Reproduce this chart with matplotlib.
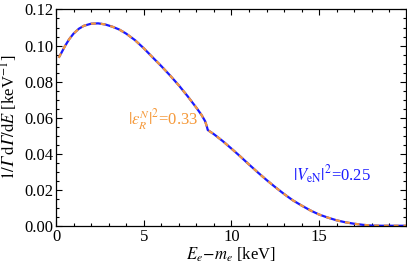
import numpy as np
import matplotlib
matplotlib.use("Agg")
import matplotlib.pyplot as plt
from matplotlib.ticker import MultipleLocator, FuncFormatter

plt.rcParams['font.family'] = ['Liberation Serif', 'DejaVu Serif']
plt.rcParams['mathtext.fontset'] = 'stix'

# spectrum (E in keV, normalised rate in 1/keV)
energy = [0.15, 0.3, 0.5, 0.75, 1.0, 1.3, 1.6, 2.0, 2.4, 2.8, 3.2, 3.6, 4.0,
          4.5, 5.0, 5.5, 6.0, 6.5, 7.0, 7.5, 8.0, 8.3, 8.5, 8.6, 8.65,
          9.0, 9.5, 10.0, 10.5, 11.0, 11.5, 12.0, 12.5, 13.0, 13.5, 14.0,
          14.5, 15.0, 15.5, 16.0, 16.5, 17.0, 17.5, 18.0, 18.6, 19.95]
rate = [0.0932, 0.0958, 0.0995, 0.1035, 0.1066, 0.1093, 0.1110, 0.1121,
        0.1123, 0.1117, 0.1105, 0.1089, 0.1066, 0.1030, 0.0985, 0.0935,
        0.0886, 0.0834, 0.0779, 0.0719, 0.0655, 0.0614, 0.0580, 0.0550,
        0.0531, 0.0508, 0.0470, 0.0428, 0.0385, 0.0340, 0.0296, 0.0254,
        0.0214, 0.0176, 0.0141, 0.0112, 0.0085, 0.0062, 0.0045, 0.0030,
        0.0019, 0.0011, 0.0005, 0.0001, 0.0, 0.0]

eps_label = r'$|\epsilon_R^N|^2$=0.33'
veN_label = r'$|V_{\rm eN}|^2$=0.25'

fig = plt.figure(figsize=(4.07, 2.71), dpi=100)
ax = fig.add_axes([0.1376, 0.167, 0.86, 0.798])

ax.plot(energy, rate, color='#1a1aff', lw=1.6, solid_capstyle='butt')
ax.plot(energy, rate, color='#f5993a', lw=1.6, dashes=(2.2, 2.2))

ax.set_xlim(0, 19.95)
ax.set_ylim(0, 0.12)
ax.xaxis.set_major_locator(MultipleLocator(5))
ax.xaxis.set_minor_locator(MultipleLocator(1))
ax.yaxis.set_major_locator(MultipleLocator(0.02))
ax.yaxis.set_minor_locator(MultipleLocator(0.005))
ax.xaxis.set_major_formatter(FuncFormatter(lambda v, p: f'{v:.0f}'))
ax.yaxis.set_major_formatter(FuncFormatter(lambda v, p: f'{v:.2f}'))

ax.tick_params(which='both', direction='in', top=True, right=True,
               labelsize=12, pad=2, width=0.8)
ax.tick_params(which='major', length=4.5)
ax.tick_params(which='minor', length=2.5)
for s in ax.spines.values():
    s.set_linewidth(0.9)

ax.set_xlabel(r'$E_e\!-\!m_e$ [keV]', fontsize=12, labelpad=1)
ax.set_ylabel('$1/\U0001D6E4\\,\\mathrm{d}\U0001D6E4/\\mathrm{d}E$ [keV$^{-1}$]',
              fontsize=12, labelpad=3)

ax.text(4.1, 0.059, eps_label, color='#f5993a', fontsize=12, va='center')
ax.text(13.5, 0.028, veN_label, color='#1a1aff', fontsize=12, va='center')

fig.savefig('out.png', dpi=100)
